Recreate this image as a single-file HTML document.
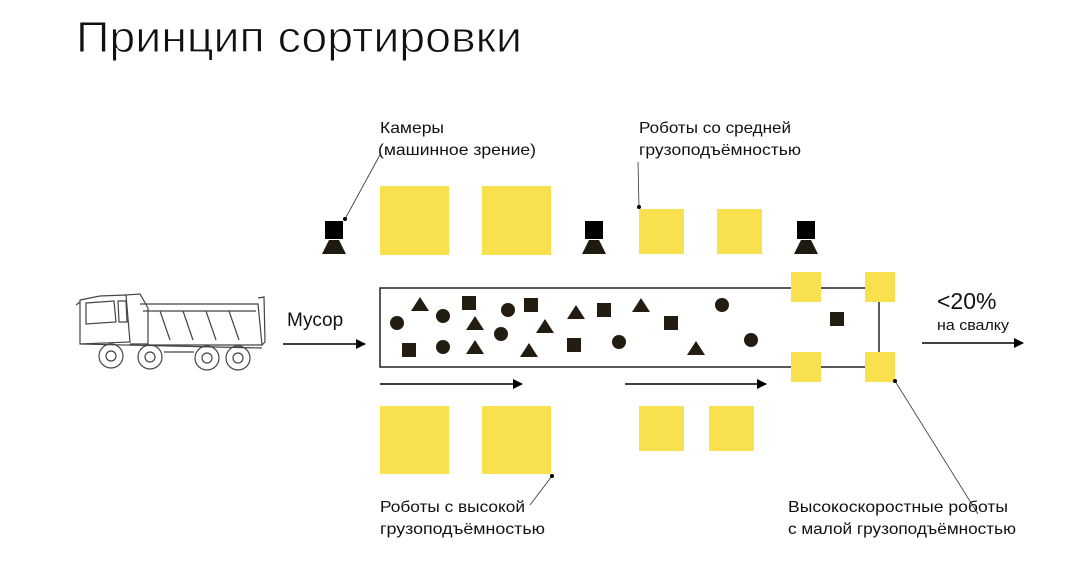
<!DOCTYPE html>
<html><head><meta charset="utf-8"><style>
html,body{margin:0;padding:0;background:#fff;}
svg{display:block;font-family:"Liberation Sans",sans-serif;}
</style></head><body>
<svg width="1080" height="574" viewBox="0 0 1080 574" xmlns="http://www.w3.org/2000/svg">
<defs><marker id="ah" markerWidth="10" markerHeight="10" refX="9" refY="5" orient="auto" markerUnits="userSpaceOnUse"><path d="M0,0 L10,5 L0,10 z" fill="#000"/></marker></defs>
<text x="76" y="52" font-size="44" fill="#111" stroke="#fff" stroke-width="0.9" paint-order="fill" textLength="446" lengthAdjust="spacingAndGlyphs">Принцип сортировки</text>

<!-- truck -->
<g fill="none" stroke="#444" stroke-width="1.2">
<path d="M80,300 L100,296 L126,295 L130,342 L80,344 Z"/>
<path d="M86,303 L114,301 L116,322 L86,324 Z"/>
<path d="M118,301 L126,301 L127,322 L119,322 Z"/>
<path d="M126,295 L140,294 L148,308 L148,344 L130,344"/>
<path d="M140,304 L258,304 L262,345 L145,345"/>
<path d="M143,311 L256,311"/>
<path d="M160,311 L170,340 M183,311 L193,340 M206,311 L216,340 M229,311 L239,340"/>
<path d="M258,298 L264,297 L265,342 L262,345"/>
<path d="M80,344 L262,348"/>
<circle cx="111" cy="356" r="12"/><circle cx="111" cy="356" r="5"/>
<circle cx="150" cy="357" r="12"/><circle cx="150" cy="357" r="5"/>
<circle cx="207" cy="358" r="12"/><circle cx="207" cy="358" r="5"/>
<circle cx="238" cy="358" r="12"/><circle cx="238" cy="358" r="5"/>
<path d="M164,352 h30 M76,305 l4,-3"/>
</g>

<text x="287" y="326" font-size="19" fill="#111">Мусор</text>
<line x1="283" y1="344" x2="365" y2="344" stroke="#000" stroke-width="1.5" marker-end="url(#ah)"/>

<!-- conveyor -->
<path d="M880,288 L380,288 L380,367 L880,367" fill="none" stroke="#222" stroke-width="1.5"/>
<line x1="879" y1="288" x2="879" y2="367" stroke="#222" stroke-width="1.5"/>

<!-- yellow robots -->
<g fill="#f8e04e">
<rect x="380" y="186" width="69" height="69"/><rect x="482" y="186" width="69" height="69"/>
<rect x="639" y="209" width="45" height="45"/><rect x="717" y="209" width="45" height="45"/>
<rect x="380" y="406" width="69" height="68"/><rect x="482" y="406" width="69" height="68"/>
<rect x="639" y="406" width="45" height="45"/><rect x="709" y="406" width="45" height="45"/>
<rect x="791" y="272" width="30" height="30"/><rect x="865" y="272" width="30" height="30"/>
<rect x="791" y="352" width="30" height="30"/><rect x="865" y="352" width="30" height="30"/>
</g>

<!-- cameras -->
<g fill="#000">
<rect x="325" y="221" width="18" height="18"/><path d="M329,240 L339,240 L346,254 L322,254 Z" fill="#1f1a10"/>
<rect x="585" y="221" width="18" height="18"/><path d="M589,240 L599,240 L606,254 L582,254 Z" fill="#1f1a10"/>
<rect x="797" y="221" width="18" height="18"/><path d="M801,240 L811,240 L818,254 L794,254 Z" fill="#1f1a10"/>
</g>

<!-- waste -->
<g fill="#231c10">
<circle cx="397" cy="323" r="7"/><circle cx="443" cy="316" r="7"/><circle cx="508" cy="310" r="7"/>
<circle cx="501" cy="334" r="7"/><circle cx="443" cy="347" r="7"/><circle cx="619" cy="342" r="7"/>
<circle cx="722" cy="305" r="7"/><circle cx="751" cy="340" r="7"/>
<rect x="402" y="343" width="14" height="14"/><rect x="462" y="296" width="14" height="14"/>
<rect x="524" y="298" width="14" height="14"/><rect x="597" y="303" width="14" height="14"/>
<rect x="664" y="316" width="14" height="14"/><rect x="567" y="338" width="14" height="14"/>
<rect x="830" y="312" width="14" height="14"/>
<path d="M420,297 l9,14 h-18 z M475,316 l9,14 h-18 z M475,340 l9,14 h-18 z M545,319 l9,14 h-18 z M529,343 l9,14 h-18 z M576,305 l9,14 h-18 z M641,298 l9,14 h-18 z M696,341 l9,14 h-18 z"/>
</g>

<line x1="380" y1="384" x2="522" y2="384" stroke="#000" stroke-width="1.5" marker-end="url(#ah)"/>
<line x1="625" y1="384" x2="766" y2="384" stroke="#000" stroke-width="1.5" marker-end="url(#ah)"/>
<line x1="922" y1="343" x2="1023" y2="343" stroke="#000" stroke-width="1.5" marker-end="url(#ah)"/>

<text x="937" y="309" font-size="23" fill="#111">&lt;20%</text>
<text x="937" y="330" font-size="15" fill="#111" textLength="72" lengthAdjust="spacingAndGlyphs">на свалку</text>

<!-- connectors -->
<g stroke="#333" stroke-width="0.8" fill="none">
<line x1="345" y1="219" x2="381" y2="153"/>
<line x1="639" y1="207" x2="638" y2="162"/>
<line x1="552" y1="476" x2="530" y2="505"/>
<line x1="895" y1="381" x2="978" y2="514"/>
</g>
<g fill="#000"><circle cx="345" cy="219" r="2"/><circle cx="639" cy="207" r="2"/><circle cx="552" cy="476" r="2"/><circle cx="895" cy="381" r="2"/></g>

<g font-size="16" fill="#111">
<text x="380" y="133" textLength="64" lengthAdjust="spacingAndGlyphs">Камеры</text>
<text x="378" y="155" textLength="158" lengthAdjust="spacingAndGlyphs">(машинное зрение)</text>
<text x="639" y="133" textLength="152" lengthAdjust="spacingAndGlyphs">Роботы со средней</text>
<text x="639" y="155" textLength="162" lengthAdjust="spacingAndGlyphs">грузоподъёмностью</text>
<text x="380" y="512" textLength="145" lengthAdjust="spacingAndGlyphs">Роботы с высокой</text>
<text x="380" y="534" textLength="165" lengthAdjust="spacingAndGlyphs">грузоподъёмностью</text>
<text x="788" y="512" textLength="220" lengthAdjust="spacingAndGlyphs">Высокоскоростные роботы</text>
<text x="788" y="534" textLength="228" lengthAdjust="spacingAndGlyphs">с малой грузоподъёмностью</text>
</g>
</svg>
</body></html>
